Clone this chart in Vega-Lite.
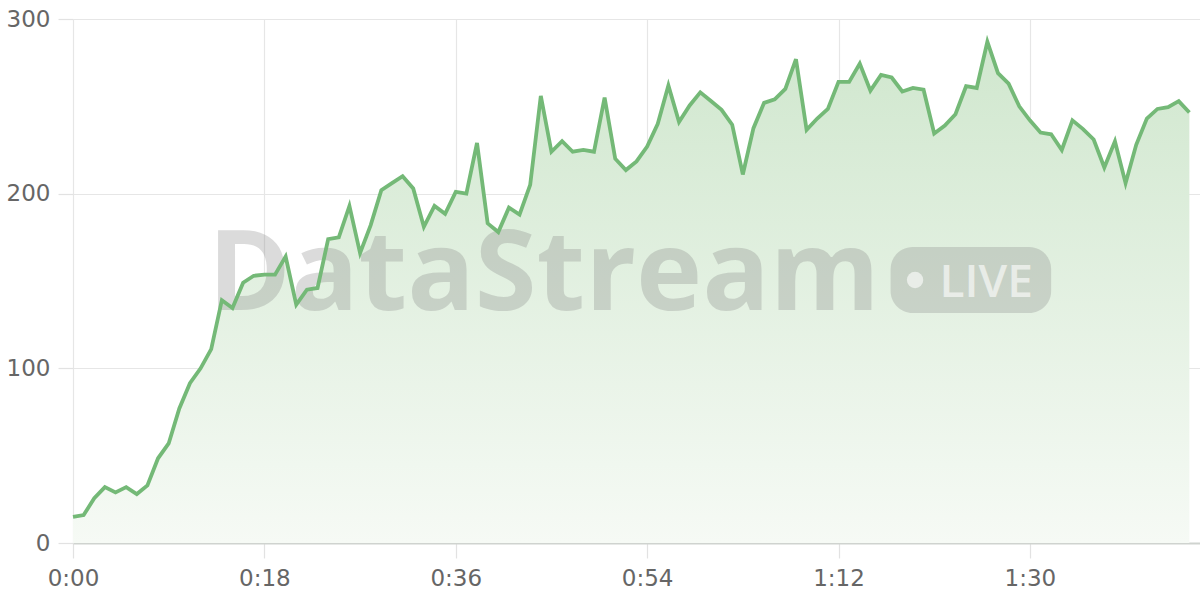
{
  "$schema": "https://vega.github.io/schema/vega-lite/v6.json",
  "width": 1127,
  "height": 524,
  "autosize": "none",
  "padding": {"left": 73, "top": 19, "right": 0, "bottom": 57},
  "background": "white",
  "config": {"view": {"stroke": null}, "font": "DejaVu Sans"},
  "datasets": {
    "series": [
      {"t": 0, "v": 15}, {"t": 1, "v": 16}, {"t": 2, "v": 25.6}, {"t": 3, "v": 32}, {"t": 4, "v": 29},
      {"t": 5, "v": 32}, {"t": 6, "v": 28}, {"t": 7, "v": 33}, {"t": 8, "v": 48.5}, {"t": 9, "v": 57},
      {"t": 10, "v": 77}, {"t": 11, "v": 91.5}, {"t": 12, "v": 100}, {"t": 13, "v": 111}, {"t": 14, "v": 139},
      {"t": 15, "v": 134.5}, {"t": 16, "v": 149}, {"t": 17, "v": 153}, {"t": 18, "v": 153.6}, {"t": 19, "v": 153.6},
      {"t": 20, "v": 164}, {"t": 21, "v": 136.5}, {"t": 22, "v": 145}, {"t": 23, "v": 146}, {"t": 24, "v": 174},
      {"t": 25, "v": 175}, {"t": 26, "v": 193}, {"t": 27, "v": 166}, {"t": 28, "v": 182}, {"t": 29, "v": 202},
      {"t": 30, "v": 206}, {"t": 31, "v": 210}, {"t": 32, "v": 203}, {"t": 33, "v": 181}, {"t": 34, "v": 193},
      {"t": 35, "v": 188.5}, {"t": 36, "v": 201}, {"t": 37, "v": 200}, {"t": 38, "v": 229}, {"t": 39, "v": 183},
      {"t": 40, "v": 178}, {"t": 41, "v": 192}, {"t": 42, "v": 188}, {"t": 43, "v": 205}, {"t": 44, "v": 256},
      {"t": 45, "v": 224}, {"t": 46, "v": 230}, {"t": 47, "v": 224}, {"t": 48, "v": 225}, {"t": 49, "v": 224},
      {"t": 50, "v": 255}, {"t": 51, "v": 220}, {"t": 52, "v": 213.5}, {"t": 53, "v": 218.5}, {"t": 54, "v": 227},
      {"t": 55, "v": 240}, {"t": 56, "v": 262}, {"t": 57, "v": 241}, {"t": 58, "v": 250.5}, {"t": 59, "v": 258},
      {"t": 60, "v": 253}, {"t": 61, "v": 248}, {"t": 62, "v": 239.5}, {"t": 63, "v": 211}, {"t": 64, "v": 237.5},
      {"t": 65, "v": 252}, {"t": 66, "v": 254}, {"t": 67, "v": 260}, {"t": 68, "v": 277}, {"t": 69, "v": 236.5},
      {"t": 70, "v": 243}, {"t": 71, "v": 248.5}, {"t": 72, "v": 264}, {"t": 73, "v": 264}, {"t": 74, "v": 274.5},
      {"t": 75, "v": 259}, {"t": 76, "v": 268}, {"t": 77, "v": 266.5}, {"t": 78, "v": 258.5}, {"t": 79, "v": 260.5},
      {"t": 80, "v": 259.5}, {"t": 81, "v": 234.5}, {"t": 82, "v": 239}, {"t": 83, "v": 245.5}, {"t": 84, "v": 261.5},
      {"t": 85, "v": 260.5}, {"t": 86, "v": 287}, {"t": 87, "v": 269}, {"t": 88, "v": 263}, {"t": 89, "v": 250},
      {"t": 90, "v": 242}, {"t": 91, "v": 235}, {"t": 92, "v": 234}, {"t": 93, "v": 225}, {"t": 94, "v": 242},
      {"t": 95, "v": 237}, {"t": 96, "v": 231}, {"t": 97, "v": 215}, {"t": 98, "v": 230}, {"t": 99, "v": 206},
      {"t": 100, "v": 228}, {"t": 101, "v": 243}, {"t": 102, "v": 248.5}, {"t": 103, "v": 249.5}, {"t": 104, "v": 253},
      {"t": 105, "v": 246.5}
    ]
  },
  "encoding": {
    "x": {
      "field": "t", "type": "quantitative",
      "scale": {"domain": [0, 106], "nice": false, "zero": false},
      "axis": {
        "values": [0, 18, 36, 54, 72, 90],
        "labelExpr": "floor(datum.value/60) + ':' + (datum.value % 60 < 10 ? '0' : '') + (datum.value % 60)",
        "title": null, "grid": true, "gridColor": "#e6e6e6", "gridWidth": 1.2,
        "domainColor": "#cfd3cf", "domainWidth": 2,
        "tickColor": "#e2e2e2", "tickSize": 15, "tickWidth": 1.2,
        "labelFlush": false, "labelOverlap": false,
        "labelFontSize": 23, "labelColor": "#666666", "labelPadding": 9, "labelFont": "DejaVu Sans"
      }
    },
    "y": {
      "field": "v", "type": "quantitative",
      "scale": {"domain": [0, 300], "nice": false},
      "axis": {
        "values": [0, 100, 200, 300], "title": null, "domain": false,
        "grid": true, "gridColor": "#e6e6e6", "gridWidth": 1.2,
        "tickColor": "#e2e2e2", "tickSize": 15, "tickWidth": 1.2,
        "labelFlush": false,
        "labelFontSize": 23, "labelColor": "#666666", "labelPadding": 8, "labelFont": "DejaVu Sans"
      }
    }
  },
  "layer": [
    {
      "data": {"name": "series"},
      "mark": {
        "type": "area",
        "fill": {
          "gradient": "linear", "x1": 0, "y1": 0, "x2": 0, "y2": 1,
          "stops": [{"offset": 0, "color": "#d0e7ce"}, {"offset": 1, "color": "#f6faf5"}]
        }
      }
    },
    {
      "data": {"values": [{"t": 12.7, "v": 133.4, "label": "DataStream"}]},
      "mark": {"type": "text", "align": "left", "baseline": "alphabetic", "fontSize": 112, "fontWeight": "bold", "font": "Open Sans", "color": "#808080", "opacity": 0.28},
      "encoding": {"text": {"field": "label"}}
    },
    {
      "data": {"values": [{"t": 76.9, "t2": 92.0, "v": 169.5, "v2": 131.7}]},
      "mark": {"type": "rect", "cornerRadius": 22, "color": "#808080", "opacity": 0.28},
      "encoding": {"x2": {"field": "t2"}, "y2": {"field": "v2"}}
    },
    {
      "data": {"values": [{"t": 79.2, "v": 150.6}]},
      "mark": {"type": "point", "filled": true, "shape": "circle", "size": 270, "color": "#ffffff", "opacity": 0.6}
    },
    {
      "data": {"values": [{"t": 81.5, "v": 140.8, "label": "LIVE"}]},
      "mark": {"type": "text", "align": "left", "baseline": "alphabetic", "fontSize": 46, "fontWeight": 600, "font": "Open Sans", "color": "#ffffff", "opacity": 0.6},
      "encoding": {"text": {"field": "label"}}
    },
    {
      "data": {"name": "series"},
      "mark": {"type": "line", "color": "#74b977", "strokeWidth": 3.8, "strokeJoin": "miter"}
    }
  ]
}
